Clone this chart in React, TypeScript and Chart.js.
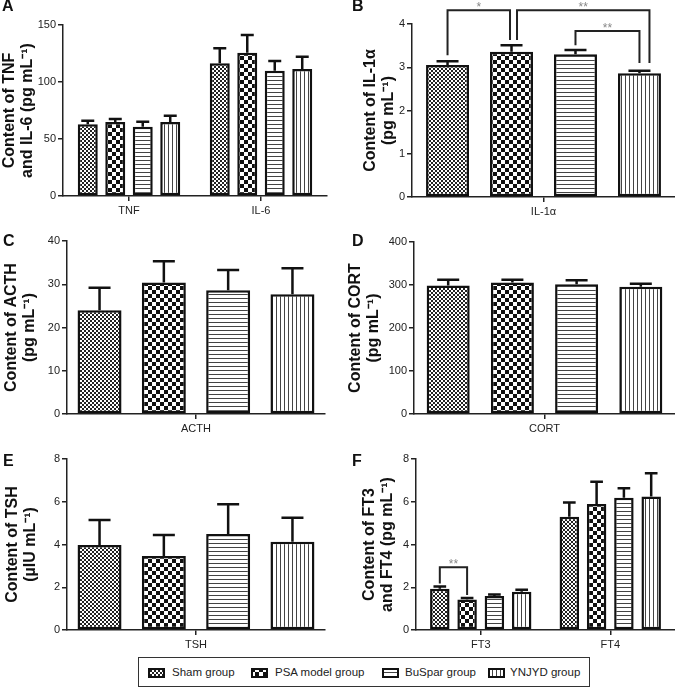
import React, { useEffect, useRef } from 'react';
import { Chart, registerables } from 'chart.js';

Chart.register(...registerables);

const FONT = '"Liberation Sans", Arial, sans-serif';

// ---- data ----
const GROUPS = ['Sham group', 'PSA model group', 'BuSpar group', 'YNJYD group'];
const PATTERN_KINDS = ['sham', 'psa', 'bus', 'ynj'];

// values indexed [group][category]
const A_CATS = ['TNF', 'IL-6'];
const A_MEAN = [[62.9, 116.4], [64.9, 125.7], [60.8, 109.9], [64.9, 111.4]];
const A_ERR = [[3.1, 13.1], [2.6, 15.5], [4.4, 8.5], [5.6, 10.8]];
const A_TITLE = ['Content of TNF', 'and IL-6 (pg mL⁻¹)'];

const B_CATS = ['IL-1α'];
const B_MEAN = [[3.05], [3.36], [3.3], [2.86]];
const B_ERR = [[0.09], [0.15], [0.1], [0.06]];
const B_TITLE = ['Content of IL-1α', '(pg mL⁻¹)'];
// significance brackets: group a, group b, category, bracket level, leg ends, label
const B_SIG = [
  { a: 0, b: 1, cat: 0, top: 4.32, aEnd: 3.28, bEnd: 3.63, label: '*' },
  { a: 1, b: 3, cat: 0, top: 4.32, aEnd: 3.63, bEnd: 3.1, label: '**' },
  { a: 2, b: 3, cat: 0, top: 3.84, aEnd: 3.51, bEnd: 3.1, label: '**' },
];
const B_SIG_NUDGE = [[0, -1.5], [5.5, 10], [0, 0]];

const C_CATS = ['ACTH'];
const C_MEAN = [[24.0], [30.4], [28.6], [27.7]];
const C_ERR = [[5.2], [4.9], [4.7], [6.0]];
const C_TITLE = ['Content of ACTH', '(pg mL⁻¹)'];

const D_CATS = ['CORT'];
const D_MEAN = [[299], [306], [302], [296]];
const D_ERR = [[13], [6], [9], [7]];
const D_TITLE = ['Content of CORT', '(pg mL⁻¹)'];

const E_CATS = ['TSH'];
const E_MEAN = [[3.98], [3.46], [4.49], [4.13]];
const E_ERR = [[1.17], [0.98], [1.39], [1.12]];
const E_TITLE = ['Content of TSH', '(µIU mL⁻¹)'];

const F_CATS = ['FT3', 'FT4'];
const F_MEAN = [[1.93, 5.3], [1.43, 5.89], [1.59, 6.19], [1.79, 6.24]];
const F_ERR = [[0.1, 0.67], [0.07, 1.05], [0.07, 0.44], [0.09, 1.09]];
const F_TITLE = ['Content of FT3', 'and FT4 (pg mL⁻¹)'];
const F_SIG = [{ a: 0, b: 1, cat: 0, top: 2.93, aEnd: 2.18, bEnd: 1.64, label: '**' }];
const F_SIG_NUDGE = [[0, 0]];

// ---- patterns ----
function makeTile(kind: string): HTMLCanvasElement {
  const c = document.createElement('canvas');
  const g = c.getContext('2d')!;
  if (kind === 'sham') {
    c.width = 4; c.height = 4;
    g.fillStyle = '#fff'; g.fillRect(0, 0, 4, 4);
    g.fillStyle = '#222'; g.fillRect(0, 0, 2, 2); g.fillRect(2, 2, 2, 2);
  } else if (kind === 'psa') {
    c.width = 8; c.height = 8;
    g.fillStyle = '#fff'; g.fillRect(0, 0, 8, 8);
    g.fillStyle = '#111'; g.fillRect(0, 0, 4, 4); g.fillRect(4, 4, 4, 4);
  } else if (kind === 'bus') {
    c.width = 4; c.height = 4;
    g.fillStyle = '#fff'; g.fillRect(0, 0, 4, 4);
    g.fillStyle = '#444'; g.fillRect(0, 0, 4, 1);
  } else {
    c.width = 4; c.height = 4;
    g.fillStyle = '#fff'; g.fillRect(0, 0, 4, 4);
    g.fillStyle = '#444'; g.fillRect(0, 0, 1, 4);
  }
  return c;
}
function makePattern(ctx: CanvasRenderingContext2D, kind: string) {
  return ctx.createPattern(makeTile(kind), 'repeat') as CanvasPattern;
}

const errorBarPlugin = {
  id: 'errbars',
  afterDatasetsDraw(chart: any) {
    const ctx = chart.ctx;
    const y = chart.scales.y;
    chart.data.datasets.forEach((ds: any, i: number) => {
      const meta = chart.getDatasetMeta(i);
      meta.data.forEach((el: any, j: number) => {
        const v = ds.data[j];
        const e = ds.errors[j];
        const yTop = y.getPixelForValue(v + e);
        const cap = Math.min(22, el.width * 0.65);
        ctx.save();
        ctx.strokeStyle = '#111';
        ctx.lineWidth = 2.5;
        ctx.beginPath();
        ctx.moveTo(el.x, el.y);
        ctx.lineTo(el.x, yTop);
        ctx.moveTo(el.x - cap / 2, yTop);
        ctx.lineTo(el.x + cap / 2, yTop);
        ctx.stroke();
        ctx.restore();
      });
    });
  },
};

function makeSigPlugin(brackets: any[], nudges: number[][]) {
  return {
    id: 'sig',
    afterDraw(chart: any) {
      const ctx = chart.ctx;
      const y = chart.scales.y;
      brackets.forEach((b, k) => {
        const ea = chart.getDatasetMeta(b.a).data[b.cat];
        const eb = chart.getDatasetMeta(b.b).data[b.cat];
        const n = nudges[k] || [0, 0];
        const xa = ea.x + n[0];
        const xb = eb.x + n[1];
        const yt = y.getPixelForValue(b.top);
        ctx.save();
        ctx.strokeStyle = '#222';
        ctx.lineWidth = 2;
        ctx.beginPath();
        ctx.moveTo(xa, y.getPixelForValue(b.aEnd));
        ctx.lineTo(xa, yt);
        ctx.lineTo(xb, yt);
        ctx.lineTo(xb, y.getPixelForValue(b.bEnd));
        ctx.stroke();
        ctx.fillStyle = '#888';
        ctx.font = `12px ${FONT}`;
        ctx.textAlign = 'center';
        ctx.textBaseline = 'alphabetic';
        ctx.fillText(b.label, (xa + xb) / 2, yt + 1);
        ctx.restore();
      });
    },
  };
}

type PanelProps = {
  left: number; top: number; width: number; height: number;
  cats: string[]; mean: number[][]; err: number[][];
  yMax: number; yStep: number; title: string[];
  padTop: number; padRight: number; yWidth: number; xHeight: number; titlePad: number;
  catPct: number; barPct: number; sig?: any[]; sigNudge?: number[][];
};

function Panel(p: PanelProps) {
  const ref = useRef<HTMLCanvasElement>(null);
  useEffect(() => {
    const canvas = ref.current!;
    const ctx = canvas.getContext('2d')!;
    const tickFont = { family: FONT, size: 11 };
    const plugins: any[] = [errorBarPlugin];
    if (p.sig) plugins.push(makeSigPlugin(p.sig, p.sigNudge || []));
    const chart = new Chart(canvas, {
      type: 'bar',
      data: {
        labels: p.cats,
        datasets: GROUPS.map((g, i) => ({
          label: g,
          data: p.mean[i],
          errors: p.err[i],
          backgroundColor: makePattern(ctx, PATTERN_KINDS[i]),
          borderColor: '#111',
          borderWidth: 2.5,
          borderSkipped: false,
          categoryPercentage: p.catPct,
          barPercentage: p.barPct,
        })) as any,
      },
      options: {
        responsive: false,
        maintainAspectRatio: false,
        animation: false,
        devicePixelRatio: 1,
        layout: { padding: { top: p.padTop, right: p.padRight, left: 0, bottom: 0 } },
        plugins: { legend: { display: false }, tooltip: { enabled: false } },
        scales: {
          x: {
            type: 'category',
            offset: true,
            grid: { display: true, offset: false, drawOnChartArea: false, drawTicks: true, tickLength: 5, color: '#222', lineWidth: 1.5 },
            border: { display: true, color: '#222', width: 1.5 },
            ticks: { color: '#222', font: tickFont, padding: 3, maxRotation: 0, autoSkip: false },
            afterFit: (s: any) => { s.height = p.xHeight; },
          },
          y: {
            min: 0,
            max: p.yMax,
            ticks: { stepSize: p.yStep, color: '#222', font: tickFont, padding: 2 },
            grid: { drawOnChartArea: false, drawTicks: true, tickLength: 5, color: '#222', lineWidth: 1.5 },
            border: { display: true, color: '#222', width: 1.5 },
            title: {
              display: true,
              text: p.title,
              color: '#111',
              font: { family: FONT, size: 16, weight: 'bold', lineHeight: 1.12 },
              padding: { top: p.titlePad, bottom: 0 },
            },
            afterFit: (s: any) => { s.width = p.yWidth; },
          },
        },
      } as any,
      plugins,
    });
    return () => chart.destroy();
  }, []);
  return (
    <canvas
      ref={ref}
      width={p.width}
      height={p.height}
      style={{ position: 'absolute', left: p.left, top: p.top, width: p.width, height: p.height }}
    />
  );
}

function Swatch({ kind, left }: { kind: string; left: number }) {
  const ref = useRef<HTMLCanvasElement>(null);
  useEffect(() => {
    const c = ref.current!;
    const g = c.getContext('2d')!;
    g.clearRect(0, 0, c.width, c.height);
    g.fillStyle = makePattern(g, kind);
    g.fillRect(0, 0, c.width, c.height);
    g.strokeStyle = '#111';
    g.lineWidth = 2;
    g.strokeRect(1, 1, c.width - 2, c.height - 2);
  }, []);
  return <canvas ref={ref} width={17} height={10} style={{ position: 'absolute', left, top: 10, width: 17, height: 10 }} />;
}

const LETTER_STYLE: React.CSSProperties = {
  position: 'absolute', fontFamily: FONT, fontWeight: 'bold', fontSize: 16, lineHeight: '16px', color: '#111',
};

export default function App() {
  const legendItems = [
    { s: 9, t: 33 },
    { s: 112, t: 136 },
    { s: 243, t: 266 },
    { s: 349, t: 371 },
  ];
  return (
    <div style={{ position: 'absolute', left: 0, top: 0, width: 675, height: 688, background: '#fff', overflow: 'hidden' }}>
      <Panel left={0} top={0} width={337} height={218} cats={A_CATS} mean={A_MEAN} err={A_ERR}
        yMax={150} yStep={50} title={A_TITLE} padTop={25} padRight={10} yWidth={63} xHeight={22} titlePad={1}
        catPct={0.833} barPct={0.727} />
      <Panel left={337} top={0} width={338} height={218} cats={B_CATS} mean={B_MEAN} err={B_ERR}
        yMax={4} yStep={1} title={B_TITLE} padTop={24} padRight={0} yWidth={75} xHeight={21} titlePad={25}
        catPct={0.973} barPct={0.672} sig={B_SIG} sigNudge={B_SIG_NUDGE} />
      <Panel left={0} top={218} width={337} height={217} cats={C_CATS} mean={C_MEAN} err={C_ERR}
        yMax={40} yStep={10} title={C_TITLE} padTop={23} padRight={12} yWidth={67} xHeight={21} titlePad={3}
        catPct={0.997} barPct={0.684} />
      <Panel left={337} top={218} width={338} height={217} cats={D_CATS} mean={D_MEAN} err={D_ERR}
        yMax={400} yStep={100} title={D_TITLE} padTop={24} padRight={0} yWidth={77} xHeight={21} titlePad={10}
        catPct={0.984} barPct={0.67} />
      <Panel left={0} top={435} width={337} height={220} cats={E_CATS} mean={E_MEAN} err={E_ERR}
        yMax={8} yStep={2} title={E_TITLE} padTop={24} padRight={12} yWidth={67} xHeight={25} titlePad={3.5}
        catPct={0.997} barPct={0.684} />
      <Panel left={337} top={435} width={338} height={220} cats={F_CATS} mean={F_MEAN} err={F_ERR}
        yMax={8} yStep={2} title={F_TITLE} padTop={24} padRight={0} yWidth={79} xHeight={25} titlePad={24}
        catPct={0.843} barPct={0.714} sig={F_SIG} sigNudge={F_SIG_NUDGE} />

      <div style={{ ...LETTER_STYLE, left: 2, top: -2 }}>A</div>
      <div style={{ ...LETTER_STYLE, left: 352, top: -2 }}>B</div>
      <div style={{ ...LETTER_STYLE, left: 3, top: 233 }}>C</div>
      <div style={{ ...LETTER_STYLE, left: 352, top: 233 }}>D</div>
      <div style={{ ...LETTER_STYLE, left: 3, top: 453 }}>E</div>
      <div style={{ ...LETTER_STYLE, left: 352, top: 453 }}>F</div>

      <div style={{ position: 'absolute', left: 138, top: 657, width: 452, height: 30, border: '1px solid #333', boxSizing: 'border-box', background: '#fff' }}>
        {GROUPS.map((g, i) => (
          <React.Fragment key={g}>
            <Swatch kind={PATTERN_KINDS[i]} left={legendItems[i].s} />
            <span style={{ position: 'absolute', left: legendItems[i].t, top: 7, fontFamily: FONT, fontSize: 11.5, lineHeight: '14px', color: '#222', whiteSpace: 'nowrap' }}>{g}</span>
          </React.Fragment>
        ))}
      </div>
    </div>
  );
}
